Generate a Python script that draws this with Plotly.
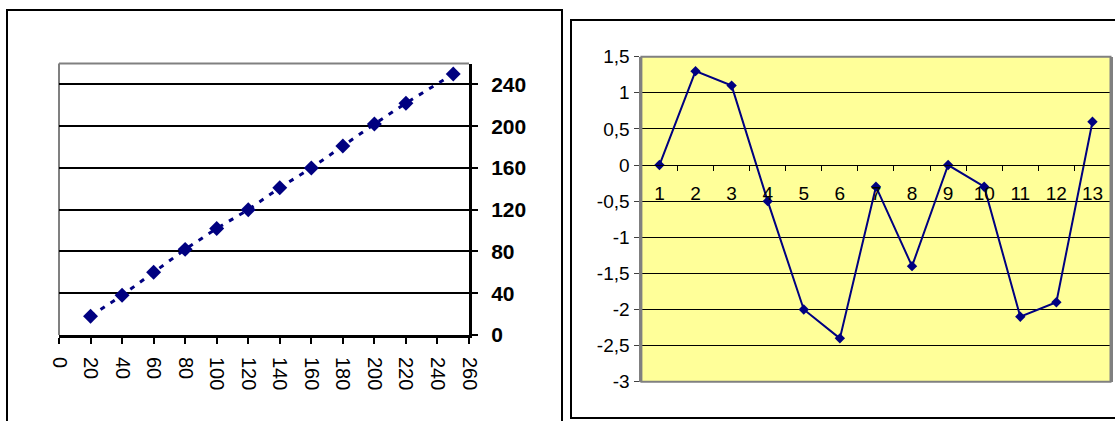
import plotly.graph_objects as go

W, H = 1115, 421

# ---- left chart data ----
lin_x = [20, 40, 60, 80, 100, 120, 140, 160, 180, 200, 220, 250]
lin_y = [18, 38, 60, 82, 102, 120, 141, 160, 181, 202, 222, 250]
lin_xticks = list(range(0, 261, 20))
lin_yticks = [0, 40, 80, 120, 160, 200, 240]

# ---- right chart data ----
wave_cats = [str(i) for i in range(1, 14)]
wave_vals = [0, 1.3, 1.1, -0.5, -2, -2.4, -0.3, -1.4, 0, -0.3, -2.1, -1.9, 0.6]
wave_yticks = [-3, -2.5, -2, -1.5, -1, -0.5, 0, 0.5, 1, 1.5]
wave_yticktext = ["-3", "-2,5", "-2", "-1,5", "-1", "-0,5", "0", "0,5", "1", "1,5"]

NAVY = "#000080"
FONT = "Arial, Liberation Sans, sans-serif"


def px_x(p):
    return p / W


def px_y(p):
    return 1 - p / H


fig = go.Figure()

fig.add_trace(go.Scatter(
    x=lin_x, y=lin_y, mode="lines+markers",
    line=dict(color=NAVY, width=3, dash="5px,7px"),
    marker=dict(symbol="diamond", size=11.5, color=NAVY),
    xaxis="x", yaxis="y", showlegend=False, cliponaxis=False,
))

fig.add_trace(go.Scatter(
    x=wave_cats, y=wave_vals, mode="lines+markers",
    line=dict(color=NAVY, width=2),
    marker=dict(symbol="diamond", size=8, color=NAVY),
    xaxis="x2", yaxis="y2", showlegend=False, cliponaxis=False,
))

# plot-area pixel boxes
L_x0, L_x1, L_y0, L_y1 = 59, 469, 63.5, 335
R_x0, R_x1, R_y0, R_y1 = 641.4, 1110.5, 56.7, 381.7
zero_px = R_y0 + (R_y1 - R_y0) * 1.5 / 4.5

fig.update_layout(
    width=W, height=H,
    margin=dict(l=0, r=0, t=0, b=0),
    paper_bgcolor="white",
    plot_bgcolor="white",
    font=dict(family=FONT, color="black"),
    xaxis=dict(
        domain=[px_x(L_x0), px_x(L_x1)], range=[0, 260], automargin=False,
        tickvals=lin_xticks, ticktext=[str(v) for v in lin_xticks],
        tickangle=90, ticks="outside", ticklen=6, tickwidth=2, tickcolor="black",
        showline=True, linecolor="black", linewidth=3,
        showgrid=False, zeroline=False,
        tickfont=dict(size=20, family=FONT, color="black"),
        ticklabelstandoff=9, anchor="y",
    ),
    yaxis=dict(
        domain=[px_y(L_y1), px_y(L_y0)], range=[0, 260], automargin=False,
        side="right", anchor="x",
        tickvals=lin_yticks, ticktext=[str(v) for v in lin_yticks],
        ticks="outside", ticklen=6, tickwidth=2, tickcolor="black",
        showline=True, linecolor="black", linewidth=3,
        showgrid=True, gridcolor="black", gridwidth=2, zeroline=False,
        tickfont=dict(size=21, family=FONT, color="black", weight="bold"),
        ticklabelstandoff=9,
    ),
    xaxis2=dict(
        domain=[px_x(R_x0), px_x(R_x1)], type="category", automargin=False,
        categoryorder="array", categoryarray=wave_cats,
        range=[-0.5, 12.5], tickson="boundaries",
        ticks="outside", ticklen=5, tickwidth=1, tickcolor="black",
        showline=True, linecolor="black", linewidth=1,
        showgrid=False, zeroline=False,
        anchor="free", position=px_y(zero_px),
        tickfont=dict(size=19, family=FONT, color="black"),
        ticklabelstandoff=11,
    ),
    yaxis2=dict(
        domain=[px_y(R_y1), px_y(R_y0)], range=[-3, 1.5], automargin=False,
        anchor="x2",
        tickvals=wave_yticks, ticktext=wave_yticktext,
        ticks="outside", ticklen=5, tickwidth=1, tickcolor="#404040",
        showline=True, linecolor="#808080", linewidth=2, mirror=True,
        showgrid=True, gridcolor="black", gridwidth=1, zeroline=False,
        tickfont=dict(size=19, family=FONT, color="black"),
        ticklabelstandoff=1,
    ),
    shapes=[
        # yellow plot background of the right chart
        dict(type="rect", xref="x2 domain", yref="y2 domain", x0=0, x1=1, y0=0, y1=1,
             fillcolor="#FFFF99", line=dict(width=0), layer="below"),
        # grey frame of the right plot area
        dict(type="rect", xref="x2 domain", yref="y2 domain", x0=0, x1=1, y0=0, y1=1,
             line=dict(color="#808080", width=2), layer="above"),
        # grey top and left edges of the left plot area
        dict(type="line", xref="x domain", yref="y domain", x0=0, x1=1, y0=1, y1=1,
             line=dict(color="#808080", width=2), layer="below"),
        dict(type="line", xref="x domain", yref="y domain", x0=0, x1=0, y0=0, y1=1,
             line=dict(color="#808080", width=2), layer="below"),
        # outer chart frames
        dict(type="rect", xref="paper", yref="paper",
             x0=px_x(7), x1=px_x(562), y0=px_y(440), y1=px_y(10),
             line=dict(color="black", width=2)),
        dict(type="rect", xref="paper", yref="paper",
             x0=px_x(571), x1=px_x(1130), y0=px_y(418), y1=px_y(20),
             line=dict(color="black", width=2)),
    ],
)

fig.write_html("out.html")
